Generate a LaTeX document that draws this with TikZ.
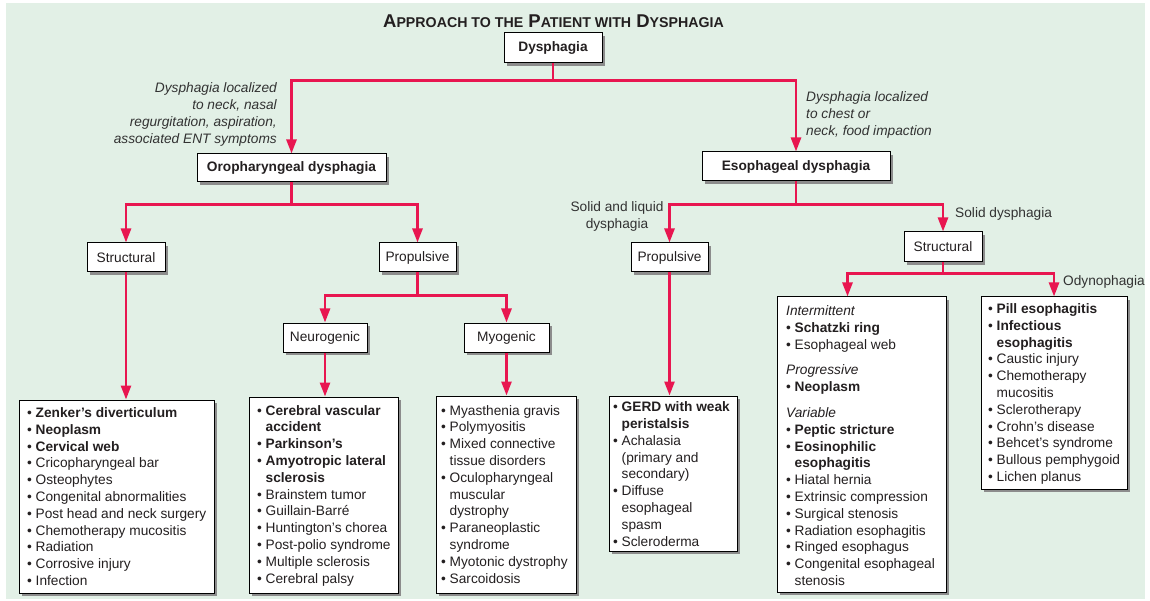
\documentclass[tikz,border=0pt]{standalone}
\usepackage{fontspec}
\setmainfont{Liberation Sans}
\usetikzlibrary{arrows.meta,shadows}
\definecolor{bgc}{RGB}{226,240,230}
\definecolor{arrc}{RGB}{232,22,80}
\definecolor{txtc}{RGB}{35,31,32}
\definecolor{lblc}{RGB}{50,50,50}
\newcommand\bitem{\makebox[8.5pt][l]{\textbullet}}
\newcommand\bcont{\hspace*{8.5pt}}
\newcommand\smc[1]{{\fontsize{14.2}{16}\selectfont #1}}
\begin{document}
\begin{tikzpicture}[x=1pt,y=-1pt,
  box/.style={draw=black,line width=1pt,fill=white,inner sep=0pt,text=txtc,
     font=\fontsize{13.7}{16}\selectfont,
     drop shadow={shadow xshift=3pt,shadow yshift=-3pt,fill=black!45,opacity=1}},
  bbox/.style={box,font=\fontsize{13.7}{16}\selectfont\bfseries},
  list/.style={inner sep=0pt,align=left,anchor=base west,text=txtc,
     font=\fontsize{13.7}{16.8}\selectfont},
  lbl/.style={inner sep=0pt,text=lblc,font=\fontsize{13.7}{17}\selectfont},
  arr/.style={draw=arrc,line width=2.6pt,-{Triangle[width=10pt,length=14pt]}}]
\useasboundingbox (0,0) rectangle (1150,601);
\fill[bgc] (6,3) rectangle (1145,599);
% title
\node[inner sep=0pt,text=txtc,font=\fontsize{18.5}{20}\selectfont\bfseries] (title) at (553.5,21)
  {A\smc{PPROACH TO THE} P\smc{ATIENT WITH} D\smc{YSPHAGIA}};
% small boxes
\node[bbox,minimum width=98,minimum height=30] (dys) at (553,48) {Dysphagia};
\node[bbox,minimum width=189,minimum height=28] (oro) at (291.5,168) {Oropharyngeal dysphagia};
\node[bbox,minimum width=188,minimum height=29] (eso) at (796,166.5) {Esophageal dysphagia};
\node[box,minimum width=78,minimum height=29] (strL) at (126,257.5) {Structural};
\node[box,minimum width=77,minimum height=29] (propL) at (417.5,257.5) {Propulsive};
\node[box,minimum width=84,minimum height=29] (neuro) at (325,337.5) {Neurogenic};
\node[box,minimum width=85,minimum height=29] (myo) at (506.5,337.5) {Myogenic};
\node[box,minimum width=77,minimum height=29] (propR) at (669.5,257.5) {Propulsive};
\node[box,minimum width=78,minimum height=30] (strR) at (943,247) {Structural};
% large boxes
\node[box,minimum width=195,minimum height=193] (bA) at (116.5,496.5) {};
\node[box,minimum width=149,minimum height=196] (bB) at (323.5,495) {};
\node[box,minimum width=140,minimum height=197] (bC) at (506,494.5) {};
\node[box,minimum width=128,minimum height=155] (bD) at (673,473.5) {};
\node[box,minimum width=169,minimum height=295] (bE) at (861.5,444.5) {};
\node[box,minimum width=146,minimum height=192] (bF) at (1054,393) {};
% lists (anchor = baseline of the last line)
\node[list] (tA) at (27,585.5) {\bitem\textbf{Zenker’s diverticulum}\\
\bitem\textbf{Neoplasm}\\
\bitem\textbf{Cervical web}\\
\bitem Cricopharyngeal bar\\
\bitem Osteophytes\\
\bitem Congenital abnormalities\\
\bitem Post head and neck surgery\\
\bitem Chemotherapy mucositis\\
\bitem Radiation\\
\bitem Corrosive injury\\
\bitem Infection};
\node[list] (tB) at (257,583) {\bitem\textbf{Cerebral vascular}\\
\bcont\textbf{accident}\\
\bitem\textbf{Parkinson’s}\\
\bitem\textbf{Amyotropic lateral}\\
\bcont\textbf{sclerosis}\\
\bitem Brainstem tumor\\
\bitem Guillain-Barré\\
\bitem Huntington’s chorea\\
\bitem Post-polio syndrome\\
\bitem Multiple sclerosis\\
\bitem Cerebral palsy};
\node[list] (tC) at (441,583) {\bitem Myasthenia gravis\\
\bitem Polymyositis\\
\bitem Mixed connective\\
\bcont tissue disorders\\
\bitem Oculopharyngeal\\
\bcont muscular\\
\bcont dystrophy\\
\bitem Paraneoplastic\\
\bcont syndrome\\
\bitem Myotonic dystrophy\\
\bitem Sarcoidosis};
\node[list] (tD) at (613,546) {\bitem\textbf{GERD with weak}\\
\bcont\textbf{peristalsis}\\
\bitem Achalasia\\
\bcont (primary and\\
\bcont secondary)\\
\bitem Diffuse\\
\bcont esophageal\\
\bcont spasm\\
\bitem Scleroderma};
\node[list] (tE) at (786,585.5) {\textit{Intermittent}\\
\bitem\textbf{Schatzki ring}\\
\bitem Esophageal web\\[9pt]
\textit{Progressive}\\
\bitem\textbf{Neoplasm}\\[9pt]
\textit{Variable}\\
\bitem\textbf{Peptic stricture}\\
\bitem\textbf{Eosinophilic}\\
\bcont\textbf{esophagitis}\\
\bitem Hiatal hernia\\
\bitem Extrinsic compression\\
\bitem Surgical stenosis\\
\bitem Radiation esophagitis\\
\bitem Ringed esophagus\\
\bitem Congenital esophageal\\
\bcont stenosis};
\node[list] (tF) at (988,481.5) {\bitem\textbf{Pill esophagitis}\\
\bitem\textbf{Infectious}\\
\bcont\textbf{esophagitis}\\
\bitem Caustic injury\\
\bitem Chemotherapy\\
\bcont mucositis\\
\bitem Sclerotherapy\\
\bitem Crohn’s disease\\
\bitem Behcet’s syndrome\\
\bitem Bullous pemphygoid\\
\bitem Lichen planus};
% labels
\node[lbl,align=right,anchor=base east] (lOro) at (277,143.5) {\itshape Dysphagia localized\\
\itshape to neck, nasal\\
\itshape regurgitation, aspiration,\\
\itshape associated ENT symptoms};
\node[lbl,align=left,anchor=base west] (lEso) at (806,135.5) {\itshape Dysphagia localized\\
\itshape to chest or\\
\itshape neck, food impaction};
\node[lbl,align=center,anchor=base] (lSL) at (617,228.5) {Solid and liquid\\dysphagia};
\node[lbl,anchor=base west] (lSD) at (955,217.5) {Solid dysphagia};
\node[lbl,anchor=base west] (lOdy) at (1063,285.5) {Odynophagia};
% connectors
\draw[arr] (dys.south) -- ++(0,17) -| (oro.north);
\draw[arr] (dys.south) -- ++(0,17) -| (eso.north);
\draw[arr] (oro.south) -- ++(0,22) -| (strL.north);
\draw[arr] (oro.south) -- ++(0,22) -| (propL.north);
\draw[arr] (strL.south) -- (strL.south |- bA.north);
\draw[arr] (propL.south) -- ++(0,23) -| (neuro.north);
\draw[arr] (propL.south) -- ++(0,23) -| (myo.north);
\draw[arr] (neuro.south) -- (neuro.south |- bB.north);
\draw[arr] (myo.south) -- (myo.south |- bC.north);
\draw[arr] (eso.south) -- ++(0,23) -| (propR.north);
\draw[arr] (eso.south) -- ++(0,23) -| (strR.north);
\draw[arr] (propR.south) -- (propR.south |- bD.north);
\draw[arr] (strR.south) -- ++(0,11) -| ([xshift=-14pt]bE.north);
\draw[arr] (strR.south) -- ++(0,11) -| (bF.north);
\end{tikzpicture}
\end{document}
